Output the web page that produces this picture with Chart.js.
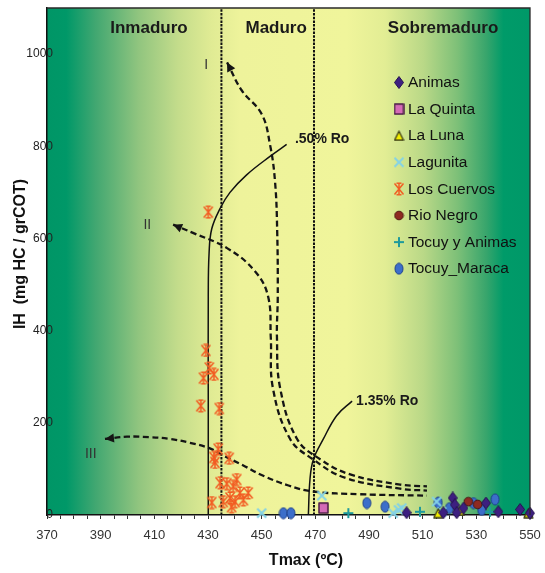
<!DOCTYPE html>
<html>
<head>
<meta charset="utf-8">
<script src="https://cdn.jsdelivr.net/npm/chart.js@4.4.1/dist/chart.umd.min.js"></script>
<style>
  html, body { margin: 0; padding: 0; background: #ffffff; }
  canvas { display: block; }
</style>
</head>
<body>
<canvas id="chart" width="545" height="573"></canvas>
<script>
const FONT = '"Liberation Sans", Arial, Helvetica, sans-serif';

// Axis ranges and tick spacing
const tmaxRange = [370, 550];
const ihRange = [0, 1100];
const tmaxTickStep = 5;
const tmaxLabelStep = 20;
const ihTickStep = 200;

// Maturity zones: boundaries (Tmax, ºC) and label anchors
const zoneNames = ['Inmaduro', 'Maduro', 'Sobremaduro'];
const zoneLabelT = [408, 455.4, 517.6];
const zoneLabelIH = 1057;
const zoneBoundsT = [435, 469.5];

// Samples by formation: Tmax (ºC) and IH (mg HC / grCOT)
const animasT = [504.0, 517.7, 521.2, 522.0, 522.7, 525.2, 533.6, 538.2, 546.3, 550.0];
const animasIH = [5, 5, 37, 22, 5, 15, 26, 7, 12, 4];
const laQuintaT = [473.0];
const laQuintaIH = [15];
const laLunaT = [515.8, 523.9, 549.4];
const laLunaIH = [4, 9, 4];
const lagunitaT = [450.0, 472.4, 499.0, 501.0, 502.2, 515.2, 517.1];
const lagunitaIH = [4, 42, 4, 11, 15, 29, 7];
const cuervosT = [430.1, 429.2, 430.5, 428.3, 432.2, 427.3, 434.2, 433.8, 432.2, 432.6, 437.9,
                  434.5, 437.0, 440.7, 439.4, 445.0, 441.9, 438.2, 440.1, 443.2, 435.7, 431.4, 438.8];
const cuervosIH = [657, 357, 319, 297, 305, 237, 231, 143, 125, 114, 123,
                   70, 68, 77, 62, 48, 48, 37, 29, 33, 29, 27, 18];
const rioNegroT = [527.0, 530.5];
const rioNegroIH = [29, 23];
const tocuyAnimasT = [482.3, 509.0, 535.1];
const tocuyAnimasIH = [4, 7, 7];
const tocuyMaracaT = [458.1, 460.9, 489.2, 496.0, 515.8, 520.0, 528.9, 532.0, 537.0];
const tocuyMaracaIH = [4, 4, 26, 18, 27, 15, 26, 11, 34];

// Kerogen evolution paths (first point = arrow tip)
const typeIT = [437.1, 442.6, 450.0, 453.1, 455.0, 455.8, 456.0, 455.7, 456.9, 463.2, 471.8, 483.0, 501.6, 511.6];
const typeIIH = [982, 921, 870, 804, 722, 612, 474, 385, 275, 165, 121, 88, 66, 62];
const typeIIT = [417.0, 424.4, 437.1, 447.5, 452.4, 453.4, 454.2, 460.6, 469.1, 481.0, 501.6, 511.6];
const typeIIIH = [630, 612, 579, 529, 474, 385, 275, 165, 121, 81, 57, 53];
const typeIIIT = [391.6, 399.8, 408.0, 416.0, 423.0, 430.5, 436.0, 443.0, 450.6, 460.0, 469.1, 486.7, 511.6];
const typeIIIIH = [165, 170, 169, 165, 157, 145, 128, 108, 85, 64, 51, 45, 42];
const pathNames = ['I', 'II', 'III'];
const pathLabelT = [429.3, 407.4, 386.3];
const pathLabelIH = [976, 629, 132];

// Vitrinite reflectance iso-lines
const ro050T = [459.3, 453.1, 444.4, 438.2, 434.5, 431.4, 430.4, 430.1, 430.1, 430.1];
const ro050IH = [804, 778, 738, 700, 665, 621, 568, 474, 250, 0];
const ro135T = [483.7, 478.0, 473.0, 469.3, 468.0, 467.4];
const ro135IH = [247, 216, 165, 121, 77, 0];
const roNames = ['.50% Ro', '1.35% Ro'];
const roLabelT = [462.4, 485.2];
const roLabelIH = [815, 246];

const zip = (xs, ys) => xs.map((x, i) => ({ x: x, y: ys[i] }));

// Marker images
function marker(w, h, paint) {
  const c = document.createElement('canvas');
  c.width = w; c.height = h;
  const g = c.getContext('2d');
  g.lineJoin = 'round';
  paint(g, w, h);
  return c;
}
const markers = {
  diamond: marker(10, 13, (g, w, h) => {
    g.beginPath(); g.moveTo(w / 2, 0.5); g.lineTo(w - 0.5, h / 2); g.lineTo(w / 2, h - 0.5); g.lineTo(0.5, h / 2); g.closePath();
    g.fillStyle = '#3d1f80'; g.fill(); g.strokeStyle = '#261150'; g.lineWidth = 1; g.stroke();
  }),
  square: marker(11, 12, (g, w, h) => {
    g.fillStyle = '#d56bb6'; g.fillRect(1, 1, w - 2, h - 2);
    g.strokeStyle = '#4a1c46'; g.lineWidth = 1.5; g.strokeRect(1, 1, w - 2, h - 2);
  }),
  triangle: marker(11, 11, (g, w, h) => {
    g.beginPath(); g.moveTo(w / 2, 1); g.lineTo(w - 1, h - 1); g.lineTo(1, h - 1); g.closePath();
    g.fillStyle = '#f4f000'; g.fill(); g.strokeStyle = '#3a3a14'; g.lineWidth = 1.3; g.stroke();
  }),
  cross: marker(12, 12, (g, w, h) => {
    g.beginPath(); g.moveTo(1.5, 1.5); g.lineTo(w - 1.5, h - 1.5); g.moveTo(w - 1.5, 1.5); g.lineTo(1.5, h - 1.5);
    g.strokeStyle = '#84d2e6'; g.lineWidth = 2; g.stroke();
  }),
  star: marker(12, 14, (g, w, h) => {
    g.beginPath();
    g.moveTo(1.5, 1.5); g.lineTo(w - 1.5, h - 1.5); g.moveTo(w - 1.5, 1.5); g.lineTo(1.5, h - 1.5);
    g.moveTo(w / 2 - 2.5, 1.2); g.lineTo(w / 2 + 2.5, 1.2); g.moveTo(w / 2 - 2.5, h - 1.2); g.lineTo(w / 2 + 2.5, h - 1.2);
    g.moveTo(w / 2, 1.2); g.lineTo(w / 2, h - 1.2);
    g.strokeStyle = '#f25c22'; g.lineWidth = 1.5; g.stroke();
  }),
  dot: marker(11, 11, (g, w, h) => {
    g.beginPath(); g.arc(w / 2, h / 2, 4.3, 0, Math.PI * 2);
    g.fillStyle = '#8e2a22'; g.fill(); g.strokeStyle = '#4a1410'; g.lineWidth = 1; g.stroke();
  }),
  plus: marker(12, 12, (g, w, h) => {
    g.beginPath(); g.moveTo(w / 2, 1); g.lineTo(w / 2, h - 1); g.moveTo(1, h / 2); g.lineTo(w - 1, h / 2);
    g.strokeStyle = '#1e9a9c'; g.lineWidth = 2; g.stroke();
  }),
  oval: marker(10, 13, (g, w, h) => {
    g.beginPath(); g.ellipse(w / 2, h / 2, 4, 5.5, 0, 0, Math.PI * 2);
    g.fillStyle = '#3c6eca'; g.fill(); g.strokeStyle = '#1c3e8a'; g.lineWidth = 1; g.stroke();
  })
};

const samples = [
  { name: 'Animas', t: animasT, ih: animasIH, style: markers.diamond },
  { name: 'La Quinta', t: laQuintaT, ih: laQuintaIH, style: markers.square },
  { name: 'La Luna', t: laLunaT, ih: laLunaIH, style: markers.triangle },
  { name: 'Lagunita', t: lagunitaT, ih: lagunitaIH, style: markers.cross },
  { name: 'Los Cuervos', t: cuervosT, ih: cuervosIH, style: markers.star },
  { name: 'Rio Negro', t: rioNegroT, ih: rioNegroIH, style: markers.dot },
  { name: 'Tocuy y Animas', t: tocuyAnimasT, ih: tocuyAnimasIH, style: markers.plus },
  { name: 'Tocuy_Maraca', t: tocuyMaracaT, ih: tocuyMaracaIH, style: markers.oval }
];
const paths = [
  { t: typeIT, ih: typeIIH },
  { t: typeIIT, ih: typeIIIH },
  { t: typeIIIT, ih: typeIIIIH }
];

const datasets = [];
samples.forEach(s => datasets.push({
  label: s.name, data: zip(s.t, s.ih), pointStyle: s.style, pointRadius: 5,
  showLine: false, clip: false, order: 0
}));
paths.forEach(p => datasets.push({
  label: '', data: zip(p.t, p.ih), showLine: true, pointRadius: 0, fill: false,
  borderColor: '#151515', borderWidth: 2.3, borderDash: [6, 3.5], tension: 0.4, order: 2
}));
[[ro050T, ro050IH], [ro135T, ro135IH]].forEach(([t, ih]) => datasets.push({
  label: '', data: zip(t, ih), showLine: true, pointRadius: 0, fill: false,
  borderColor: '#111', borderWidth: 1.5, tension: 0.4, order: 1
}));
zoneBoundsT.forEach(t => datasets.push({
  label: '', data: zip([t, t], ihRange), showLine: true, pointRadius: 0, fill: false,
  borderColor: '#111', borderWidth: 2, borderDash: [2.5, 1.2], tension: 0, order: 3
}));

// Green–yellow–green maturity shading behind the plot
const zoneBackground = {
  id: 'zoneBackground',
  beforeDraw(chart) {
    const { ctx, chartArea: a } = chart;
    const g = ctx.createLinearGradient(a.left, 0, a.right, 0);
    [[0, '0,150,102'], [0.04, '0,152,104'], [0.10, '65,167,113'], [0.19, '145,197,127'],
     [0.27, '195,220,139'], [0.34, '224,235,148'], [0.40, '238,243,155'], [0.62, '240,245,155'],
     [0.70, '226,237,148'], [0.78, '185,216,135'], [0.85, '125,192,120'], [0.91, '55,165,108'],
     [0.945, '0,155,105'], [1, '0,152,104']].forEach(([o, c]) => g.addColorStop(o, 'rgb(' + c + ')'));
    ctx.save();
    ctx.fillStyle = g;
    ctx.fillRect(a.left, a.top, a.right - a.left, a.bottom - a.top);
    ctx.restore();
  }
};

// Frame, y labels, arrowheads, annotations, titles and legend
const annotations = {
  id: 'annotations',
  afterDraw(chart) {
    const { ctx, chartArea: a, scales: { x, y } } = chart;
    const px = v => x.getPixelForValue(v);
    const py = v => y.getPixelForValue(v);
    ctx.save();

    // plot frame (top and right)
    ctx.strokeStyle = '#2a2a2a'; ctx.lineWidth = 1.3;
    ctx.beginPath(); ctx.moveTo(a.left, a.top); ctx.lineTo(a.right, a.top); ctx.lineTo(a.right, a.bottom); ctx.stroke();

    // IH tick labels, overlapping the axis line slightly
    ctx.fillStyle = '#222'; ctx.font = '12px ' + FONT;
    ctx.textAlign = 'right'; ctx.textBaseline = 'middle';
    y.ticks.forEach(t => {
      if (t.value % ihTickStep === 0) ctx.fillText(String(t.value), a.left + 6, py(t.value));
    });

    // arrowheads at the start of each evolution path
    ctx.fillStyle = '#151515';
    paths.forEach(p => {
      const x0 = px(p.t[0]), y0 = py(p.ih[0]), x1 = px(p.t[1]), y1 = py(p.ih[1]);
      const ang = Math.atan2(y0 - y1, x0 - x1);
      const L = 9, W = 4.5;
      ctx.beginPath();
      ctx.moveTo(x0, y0);
      ctx.lineTo(x0 - L * Math.cos(ang) + W * Math.sin(ang), y0 - L * Math.sin(ang) - W * Math.cos(ang));
      ctx.lineTo(x0 - L * Math.cos(ang) - W * Math.sin(ang), y0 - L * Math.sin(ang) + W * Math.cos(ang));
      ctx.closePath(); ctx.fill();
    });

    // zone names
    ctx.fillStyle = '#1a1a1a'; ctx.font = 'bold 17px ' + FONT;
    ctx.textAlign = 'center'; ctx.textBaseline = 'middle';
    zoneNames.forEach((n, i) => ctx.fillText(n, px(zoneLabelT[i]), py(zoneLabelIH)));

    // kerogen type numerals
    ctx.fillStyle = '#333'; ctx.font = '14px ' + FONT;
    pathNames.forEach((n, i) => ctx.fillText(n, px(pathLabelT[i]), py(pathLabelIH[i])));

    // reflectance labels
    ctx.fillStyle = '#1a1a1a'; ctx.font = 'bold 14px ' + FONT; ctx.textAlign = 'left';
    roNames.forEach((n, i) => ctx.fillText(n, px(roLabelT[i]), py(roLabelIH[i])));

    // axis titles
    ctx.font = 'bold 16px ' + FONT; ctx.textAlign = 'center'; ctx.fillStyle = '#111';
    ctx.fillText('Tmax (ºC)', 306, 561);
    ctx.save();
    ctx.translate(21, 254); ctx.rotate(-Math.PI / 2);
    ctx.fillText('IH  (mg HC / grCOT)', 0, 0);
    ctx.restore();

    // legend
    ctx.font = '15.5px ' + FONT; ctx.textAlign = 'left'; ctx.fillStyle = '#111';
    samples.forEach((s, i) => {
      const ly = 82.5 + i * 26.6;
      const img = s.style;
      ctx.drawImage(img, 399 - img.width / 2, ly - img.height / 2);
      ctx.fillText(s.name, 408, ly + 0.5);
    });
    ctx.restore();
  }
};

new Chart(document.getElementById('chart').getContext('2d'), {
  type: 'scatter',
  data: { datasets: datasets },
  options: {
    responsive: false,
    animation: false,
    events: [],
    layout: { padding: { top: 8, right: 15, left: 0, bottom: 0 } },
    plugins: { legend: { display: false }, tooltip: { enabled: false } },
    scales: {
      x: {
        type: 'linear', min: tmaxRange[0], max: tmaxRange[1],
        afterFit: s => { s.height = 58; s.paddingLeft = 0; s.paddingRight = 0; },
        ticks: {
          stepSize: tmaxTickStep, autoSkip: false, maxRotation: 0, padding: 9,
          color: '#333', font: { family: FONT, size: 13 },
          callback: v => ((v - tmaxRange[0]) % tmaxLabelStep === 0 ? String(v) : '')
        },
        grid: { drawOnChartArea: false, drawTicks: true, tickLength: 4, color: '#333', lineWidth: 1 },
        border: { color: '#111', width: 1.5 }
      },
      y: {
        type: 'linear', min: ihRange[0], max: ihRange[1],
        afterFit: s => { s.width = 47; s.paddingTop = 0; s.paddingBottom = 0; },
        ticks: { stepSize: ihTickStep, autoSkip: false, display: false },
        grid: { display: false, drawTicks: false },
        border: { color: '#111', width: 1.5 }
      }
    }
  },
  plugins: [zoneBackground, annotations]
});
</script>
</body>
</html>
